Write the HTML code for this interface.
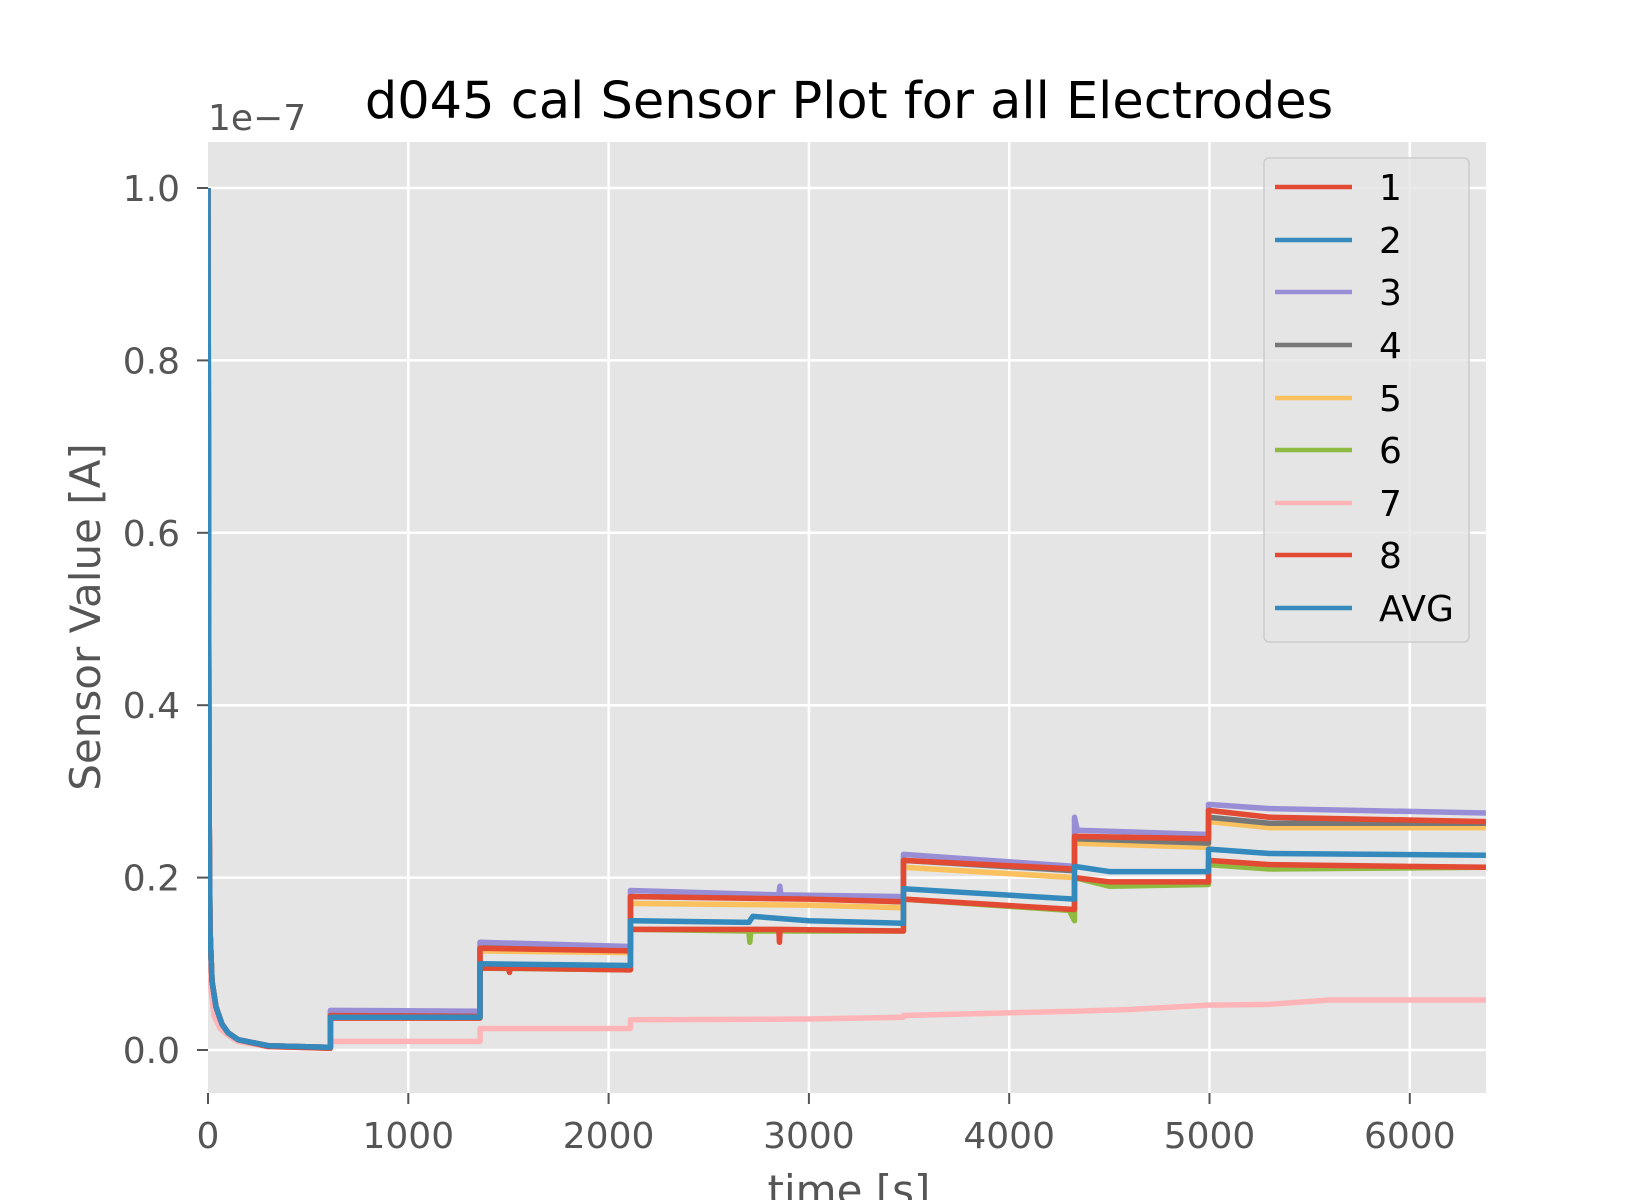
<!DOCTYPE html>
<html><head><style>body{margin:0;background:#fff}svg{display:block}</style></head><body>
<svg width="1630" height="1200" viewBox="0 0 1630 1200" xmlns="http://www.w3.org/2000/svg" font-family="DejaVu Sans, Liberation Sans, sans-serif">
<defs><clipPath id="c"><rect x="208" y="142" width="1278" height="951"/></clipPath></defs>
<rect x="208" y="142" width="1278" height="951" fill="#e5e5e5"/>
<g stroke="#fff" stroke-width="2.5">
<line x1="208" y1="1050" x2="1486" y2="1050"/><line x1="208" y1="877.6" x2="1486" y2="877.6"/><line x1="208" y1="705.2" x2="1486" y2="705.2"/><line x1="208" y1="532.8" x2="1486" y2="532.8"/><line x1="208" y1="360.4" x2="1486" y2="360.4"/><line x1="208" y1="188" x2="1486" y2="188"/>
<line x1="408.3" y1="142" x2="408.3" y2="1093"/><line x1="608.6" y1="142" x2="608.6" y2="1093"/><line x1="808.9" y1="142" x2="808.9" y2="1093"/><line x1="1009.2" y1="142" x2="1009.2" y2="1093"/><line x1="1209.5" y1="142" x2="1209.5" y2="1093"/><line x1="1409.8" y1="142" x2="1409.8" y2="1093"/>
</g>
<g clip-path="url(#c)"><g transform="translate(208,1050) scale(0.2003,-862)" fill="none" stroke-width="5.5" stroke-linejoin="round">
<polyline vector-effect="non-scaling-stroke" stroke="#ffb5b8" points="0,0.25 10,0.08 30,0.04 60,0.025 100,0.017 150,0.01 300,0.004 611,0.002 611,0.01 1358,0.01 1358,0.025 2109,0.025 2109,0.035 3000,0.036 3472,0.038 3472,0.04 4326,0.045 4326,0.045 4600,0.047 4995,0.052 5300,0.053 5600,0.058 6380,0.058"/>
<polyline vector-effect="non-scaling-stroke" stroke="#8eba42" points="0,0.9 5,0.3 10,0.14 20,0.08 40,0.05 70,0.03 100,0.02 150,0.012 300,0.005 611,0.002 611,0.038 1358,0.037 1358,0.095 2109,0.093 2109,0.14 2700,0.138 2705,0.125 2710,0.138 3472,0.138 3472,0.175 4300,0.162 4326,0.15 4326,0.2 4500,0.19 4995,0.192 4995,0.215 5300,0.21 6380,0.212"/>
<polyline vector-effect="non-scaling-stroke" stroke="#fbc15e" points="0,1.0 5,0.3 10,0.14 20,0.08 40,0.05 70,0.03 100,0.02 150,0.012 300,0.005 611,0.003 611,0.045 1358,0.044 1358,0.115 2109,0.113 2109,0.17 3000,0.168 3472,0.165 3472,0.212 4326,0.2 4326,0.24 4995,0.235 4995,0.265 5300,0.258 6380,0.258"/>
<polyline vector-effect="non-scaling-stroke" stroke="#777" points="0,1.0 5,0.3 10,0.14 20,0.08 40,0.05 70,0.03 100,0.02 150,0.012 300,0.005 611,0.003 611,0.042 1358,0.041 1358,0.12 2109,0.117 2109,0.178 3000,0.176 3472,0.172 3472,0.22 4326,0.208 4326,0.245 4995,0.24 4995,0.27 5300,0.263 6380,0.263"/>
<polyline vector-effect="non-scaling-stroke" stroke="#988ed5" points="0,1.0 5,0.3 10,0.14 20,0.08 40,0.05 70,0.03 100,0.02 150,0.012 300,0.005 611,0.003 611,0.046 1358,0.045 1358,0.125 2109,0.12 2109,0.185 2850,0.18 2855,0.19 2860,0.18 3472,0.178 3472,0.227 4326,0.213 4326,0.27 4340,0.255 4995,0.25 4995,0.285 5300,0.28 6380,0.275"/>
<polyline vector-effect="non-scaling-stroke" stroke="#e24a33" points="0,1.0 5,0.3 10,0.14 20,0.08 40,0.05 70,0.03 100,0.02 150,0.012 300,0.005 611,0.003 611,0.04 1358,0.039 1358,0.118 2109,0.115 2109,0.178 3000,0.175 3472,0.172 3472,0.22 4326,0.21 4326,0.248 4995,0.245 4995,0.278 5300,0.27 6380,0.265"/>
<polyline vector-effect="non-scaling-stroke" stroke="#e24a33" points="0,1.0 5,0.3 10,0.14 20,0.08 40,0.05 70,0.03 100,0.02 150,0.012 300,0.004 611,0.002 611,0.037 1358,0.037 1358,0.095 1500,0.095 1505,0.09 1510,0.095 2109,0.093 2109,0.14 2850,0.14 2853,0.125 2856,0.14 3472,0.138 3472,0.175 4326,0.163 4326,0.2 4500,0.195 4995,0.195 4995,0.22 5300,0.215 6380,0.212"/>
<polyline vector-effect="non-scaling-stroke" stroke="#348abd" points="0,1.0 5,0.3 10,0.14 20,0.08 40,0.05 70,0.03 100,0.02 150,0.012 300,0.005 611,0.003 611,0.038 1358,0.038 1358,0.1 2109,0.098 2109,0.15 2700,0.148 2720,0.155 3000,0.15 3472,0.147 3472,0.187 4326,0.175 4326,0.213 4500,0.207 4995,0.207 4995,0.233 5300,0.228 6380,0.226"/>
</g></g>
<g stroke="#555" stroke-width="2">
<line x1="197" y1="1050" x2="208" y2="1050"/><line x1="197" y1="877.6" x2="208" y2="877.6"/><line x1="197" y1="705.2" x2="208" y2="705.2"/><line x1="197" y1="532.8" x2="208" y2="532.8"/><line x1="197" y1="360.4" x2="208" y2="360.4"/><line x1="197" y1="188" x2="208" y2="188"/>
<line x1="208" y1="1093" x2="208" y2="1104"/><line x1="408.3" y1="1093" x2="408.3" y2="1104"/><line x1="608.6" y1="1093" x2="608.6" y2="1104"/><line x1="808.9" y1="1093" x2="808.9" y2="1104"/><line x1="1009.2" y1="1093" x2="1009.2" y2="1104"/><line x1="1209.5" y1="1093" x2="1209.5" y2="1104"/><line x1="1409.8" y1="1093" x2="1409.8" y2="1104"/>
</g>
<g fill="#555" font-size="36" text-anchor="end">
<text x="180" y="1063">0.0</text><text x="180" y="890.6">0.2</text><text x="180" y="718.2">0.4</text><text x="180" y="545.8">0.6</text><text x="180" y="373.4">0.8</text><text x="180" y="201">1.0</text>
</g>
<g fill="#555" font-size="36" text-anchor="middle">
<text x="208" y="1148">0</text><text x="408.3" y="1148">1000</text><text x="608.6" y="1148">2000</text><text x="808.9" y="1148">3000</text><text x="1009.2" y="1148">4000</text><text x="1209.5" y="1148">5000</text><text x="1409.8" y="1148">6000</text>
<text x="849" y="1205" font-size="42">time [s]</text>
</g>
<text x="208" y="130" fill="#555" font-size="36">1e−7</text>
<text x="849" y="118" font-size="51" text-anchor="middle" fill="#000">d045 cal Sensor Plot for all Electrodes</text>
<text transform="translate(100,617) rotate(-90)" font-size="42" fill="#555" text-anchor="middle">Sensor Value [A]</text>
<rect x="1264" y="158" width="205" height="484" rx="5" fill="#e5e5e5" fill-opacity="0.8" stroke="#ccc" stroke-width="1.5"/>
<g stroke-width="4.5">
<line x1="1275" y1="187" x2="1352" y2="187" stroke="#e24a33"/><line x1="1275" y1="240" x2="1352" y2="240" stroke="#348abd"/><line x1="1275" y1="292" x2="1352" y2="292" stroke="#988ed5"/><line x1="1275" y1="345" x2="1352" y2="345" stroke="#777"/><line x1="1275" y1="398" x2="1352" y2="398" stroke="#fbc15e"/><line x1="1275" y1="450" x2="1352" y2="450" stroke="#8eba42"/><line x1="1275" y1="503" x2="1352" y2="503" stroke="#ffb5b8"/><line x1="1275" y1="555" x2="1352" y2="555" stroke="#e24a33"/><line x1="1275" y1="608" x2="1352" y2="608" stroke="#348abd"/>
</g>
<g font-size="36" fill="#000">
<text x="1379" y="200">1</text><text x="1379" y="253">2</text><text x="1379" y="305">3</text><text x="1379" y="358">4</text><text x="1379" y="411">5</text><text x="1379" y="463">6</text><text x="1379" y="516">7</text><text x="1379" y="568">8</text><text x="1379" y="621">AVG</text>
</g>
</svg>
</body></html>
